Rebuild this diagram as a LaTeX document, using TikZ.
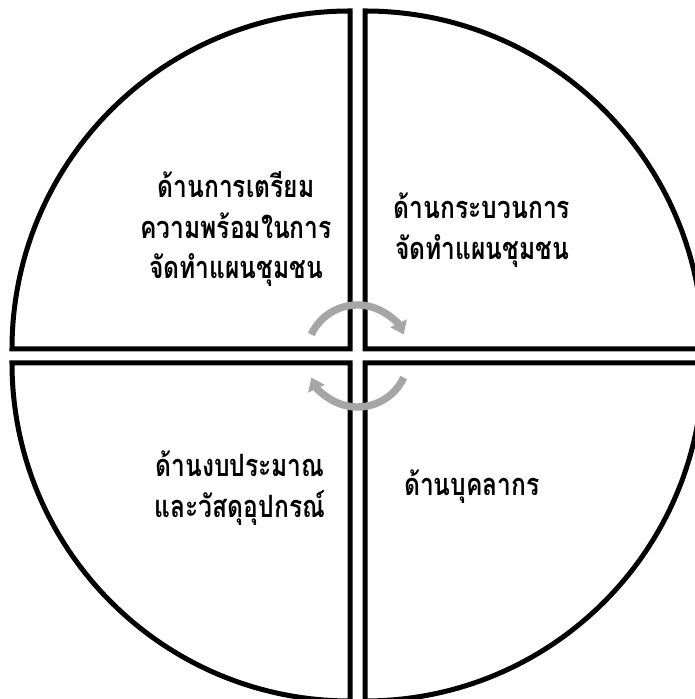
\documentclass[tikz,border=0pt]{standalone}
\usepackage{fontspec}
\usepackage{tikz}
\usetikzlibrary{arrows.meta}
\newfontfamily\thaifont[Script=Thai,FakeStretch=0.8]{Loma}
\definecolor{CycleGray}{HTML}{A6A6A6}

\begin{document}
\begin{tikzpicture}[x=0.02cm,y=0.02cm,
  quarter/.style={draw=black,line width=2.85pt,line join=miter},
  sectortext/.style={font=\thaifont\bfseries\fontsize{17.5}{23}\selectfont,align=center},
  turnarrow/.style={draw=CycleGray,line width=4.2pt,-{Triangle[length=7pt,width=10pt]}}]
  \useasboundingbox (0,0) rectangle (695,699);
  \clip (0,0) rectangle (695,699);
  \foreach \name/\cx/\cy/\start in {tl/350/350/90, tr/365/350/0, bl/350/336/180, br/365/336/270}
  {
    \draw[quarter] (\cx,\cy) -- ++(\start:338) arc[start angle=\start,end angle=\start+90,radius=338] -- cycle;
  }
  \coordinate (hub) at (357.5,343);
  \node[sectortext] (prep) at (236,470) {ด้านการเตรียม\\ความพร้อมในการ\\จัดทำแผนชุมชน};
  \node[sectortext] (process) at (482,469) {ด้านกระบวนการ\\จัดทำแผนชุมชน};
  \node[sectortext] (budget) at (240,211) {ด้านงบประมาณ\\และวัสดุอุปกรณ์};
  \node[sectortext] (staff) at (472,212) {ด้านบุคลากร};
  \draw[turnarrow] ([shift={(155:51)}]hub) arc[start angle=155,end angle=25,radius=51];
  \draw[turnarrow] ([shift={(-25:51)}]hub) arc[start angle=-25,end angle=-155,radius=51];
\end{tikzpicture}
\end{document}
